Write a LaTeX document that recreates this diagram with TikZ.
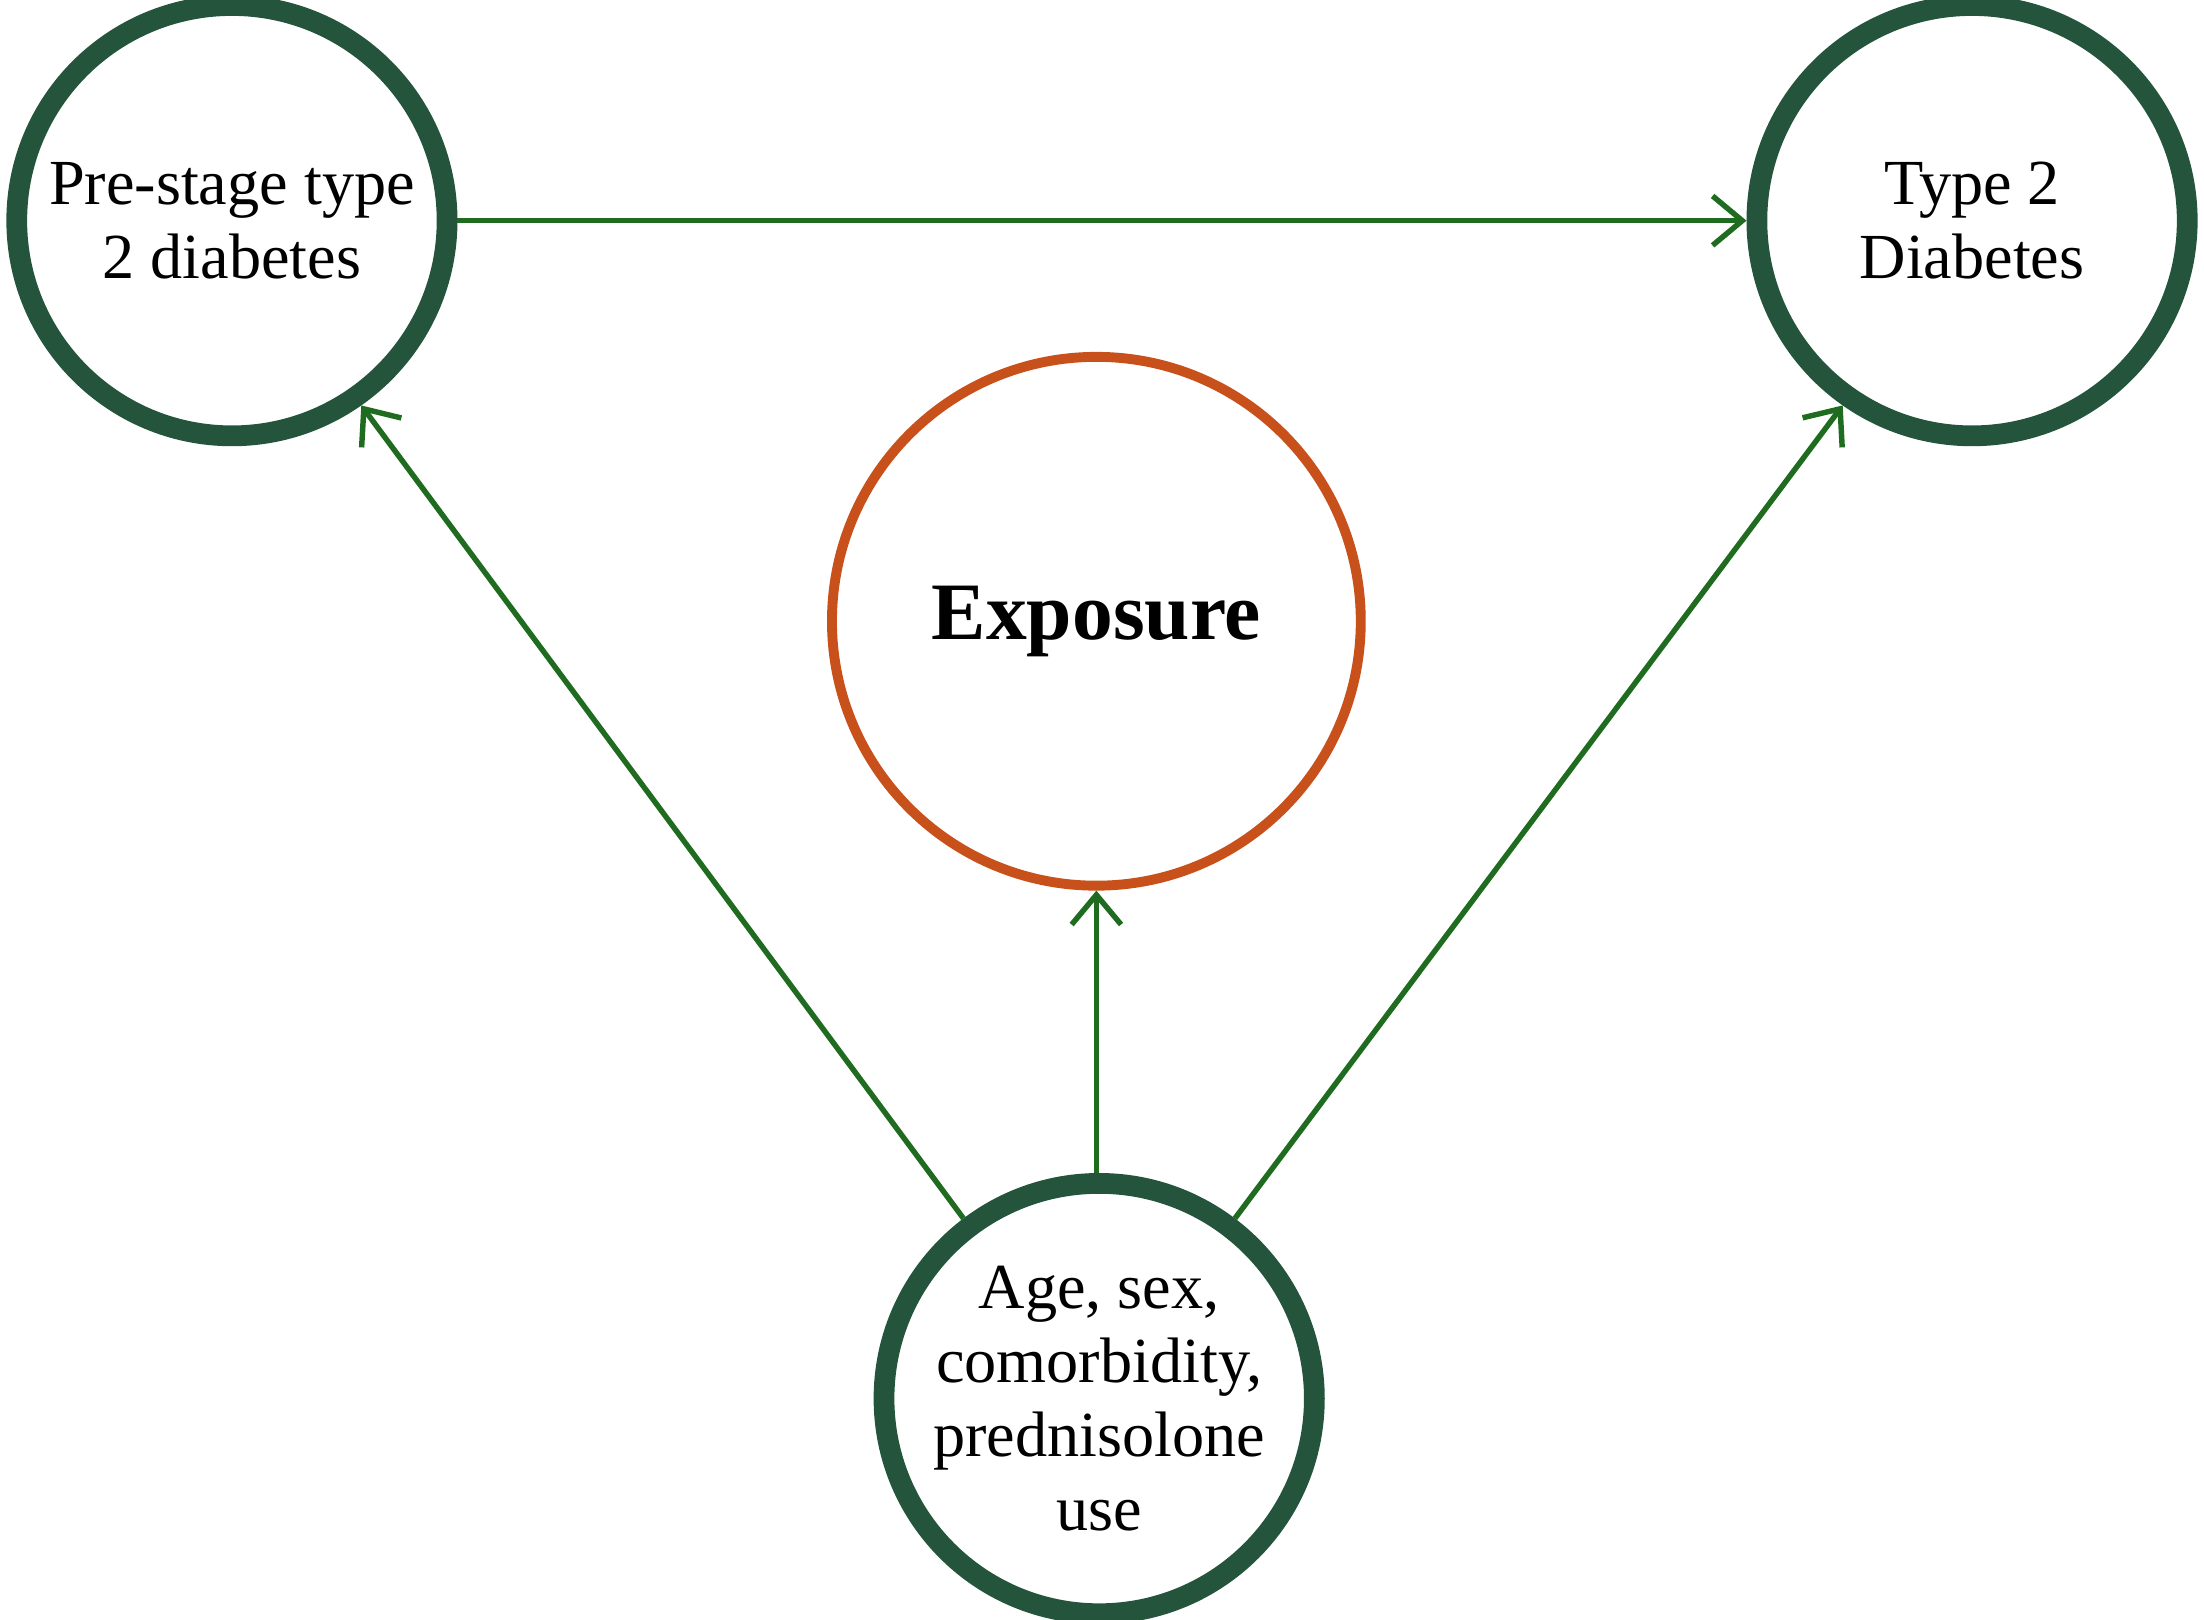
\documentclass[tikz,border=0pt]{standalone}
\usepackage{fontspec}
\setmainfont{Liberation Serif}
\usetikzlibrary{arrows.meta}
\definecolor{dgreen}{HTML}{24543C}
\definecolor{agreen}{HTML}{1F6B1F}
\definecolor{orng}{HTML}{C8501A}
\begin{document}
\begin{tikzpicture}[x=0.01cm,y=-0.01cm,
  gc/.style={circle,draw=dgreen,line width=4.2pt,minimum size=3.06cm,inner sep=0pt,align=center,font=\fontsize{13}{15}\selectfont},
  ec/.style={circle,draw=orng,line width=2pt,minimum size=3.76cm,inner sep=0pt,align=center,font=\fontsize{16.5}{19}\selectfont\bfseries},
  ar/.style={draw=agreen,line width=1.1pt,-{Straight Barb[length=6pt,width=10pt,line width=1.1pt]}}]
\useasboundingbox (0,0) rectangle (1568,1152);
\node[gc] (pre) at (165,157) {Pre-stage type\\2 diabetes};
\node[gc] (t2) at (1403,157) {Type 2\\Diabetes};
\node[ec] (ex) at (780,442) {\raisebox{-0.1cm}{Exposure}};
\node[gc] (age) at (782,995) {Age, sex,\\comorbidity,\\prednisolone\\use};
\draw[ar] (pre) -- (t2);
\draw[ar] (age.north -| ex.south) -- (ex.south);
\draw[ar] (age.127) -- (pre.-55);
\draw[ar] (age.53) -- (t2.-125);
\end{tikzpicture}
\end{document}
